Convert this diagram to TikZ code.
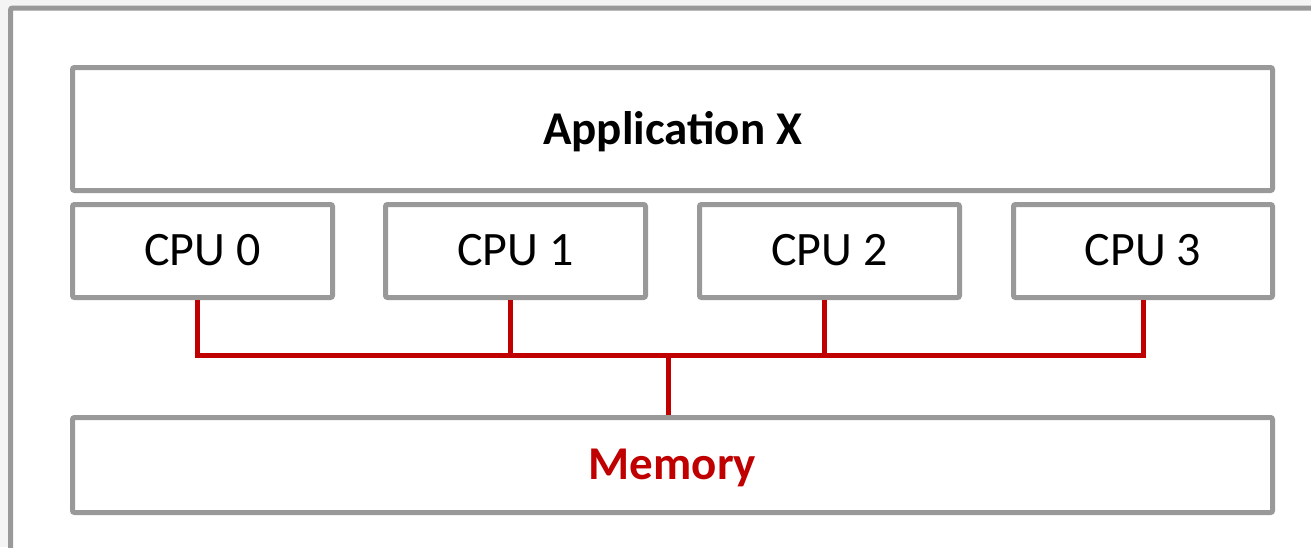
\documentclass[tikz,border=0pt]{standalone}
\usepackage{fontspec}
\setmainfont{Carlito}
\definecolor{boxgray}{HTML}{999999}
\definecolor{busred}{HTML}{C00000}
\definecolor{bggray}{HTML}{F4F4F4}
\tikzset{
  blk/.style={draw=boxgray, line width=5pt, fill=white, rounded corners=2pt, inner sep=0pt, anchor=north west},
  bus/.style={draw=busred, line width=5pt},
}
\begin{document}
\begin{tikzpicture}[x=1pt,y=-1pt]
\useasboundingbox (0,0) rectangle (1311,547);
\fill[bggray] (0,0) rectangle (1311,547);
\begin{scope}
\clip (0,0) rectangle (1311,547);
\draw[boxgray, line width=5pt, fill=white, rounded corners=2pt] (10.5,8) rectangle (1330,570);
\end{scope}
\node[blk, minimum width=1200pt, minimum height=123pt] (app) at (70,65) {};
\node[font=\bfseries\fontsize{47}{54}\selectfont] at ([yshift=-3pt]app.center) {Application X};
\node[blk, minimum width=260pt, minimum height=93pt] (cpu0) at (70,202) {};
\node[blk, minimum width=260pt, minimum height=93pt] (cpu1) at (383,202) {};
\node[blk, minimum width=260pt, minimum height=93pt] (cpu2) at (697,202) {};
\node[blk, minimum width=259pt, minimum height=93pt] (cpu3) at (1011,202) {};
\foreach \i in {0,1,2,3}{
  \node[font=\fontsize{48}{56}\selectfont] at ([yshift=1pt]cpu\i.center) {CPU \i};
}
\node[blk, minimum width=1200pt, minimum height=95pt] (mem) at (70,415) {};
\node[font=\bfseries\fontsize{47}{54}\selectfont, text=busred] at ([yshift=-3pt]mem.center) {Memory};
\coordinate (b0) at (197,355);
\coordinate (b3) at (1143,355);
\coordinate (bm) at (668,355);
\draw[bus] (cpu0.south -| b0) -- (b0) -- (b3) -- (cpu3.south -| b3);
\draw[bus] (cpu1.south -| 510,0) -- (510,355);
\draw[bus] (cpu2.south -| 824,0) -- (824,355);
\draw[bus] (bm) -- (mem.north -| bm);
\end{tikzpicture}
\end{document}
